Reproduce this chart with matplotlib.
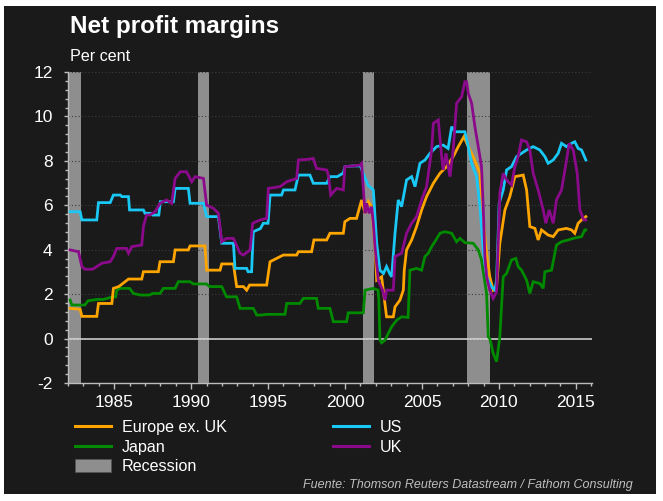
import matplotlib
matplotlib.use("Agg")
import matplotlib.pyplot as plt
from matplotlib.patches import Rectangle, Patch
from matplotlib.lines import Line2D
from matplotlib.ticker import MultipleLocator

plt.rcParams['font.family'] = ['Liberation Sans', 'DejaVu Sans']
plt.rcParams['axes.unicode_minus'] = False

# ---------------- data ----------------
us_x = [1982.14, 1982.79, 1982.9, 1983.87, 1983.98, 1984.74, 1984.95, 1985.4, 1985.5, 1985.93, 1986.0, 1986.9,
        1987.0, 1987.4, 1987.5, 1987.9, 1988.0, 1988.85, 1988.96, 1989.82, 1989.93, 1990.8, 1991.01, 1991.77,
        1991.99, 1992.75, 1992.85, 1993.61, 1993.7, 1993.93, 1994.04, 1994.5, 1994.69, 1995.0, 1995.13, 1995.88,
        1996.0, 1996.75, 1996.97, 1997.72, 1997.94, 1998.81, 1999.02, 1999.5, 1999.89, 2000.0, 2000.5, 2001.0,
        2001.2, 2001.5, 2001.84, 2002.06, 2002.27, 2002.5, 2002.7, 2002.9, 2003.03, 2003.25, 2003.46, 2003.68,
        2004.0, 2004.33, 2004.55, 2004.87, 2005.2, 2005.52, 2005.95, 2006.38, 2006.7, 2006.93, 2007.14, 2007.79,
        2008.01, 2008.23, 2008.55, 2008.77, 2008.98, 2009.2, 2009.52, 2009.74, 2009.85, 2010.02, 2010.28, 2010.5,
        2010.82, 2011.15, 2011.47, 2011.8, 2012.23, 2012.66, 2012.99, 2013.2, 2013.53, 2013.85, 2014.07, 2014.39,
        2014.72, 2014.93, 2015.15, 2015.37, 2015.65]
us_y = [5.71, 5.71, 5.34, 5.34, 6.12, 6.12, 6.46, 6.46, 6.39, 6.39, 5.79, 5.79,
        5.64, 5.64, 5.56, 5.56, 6.16, 6.16, 6.76, 6.76, 6.09, 6.09, 5.49, 5.49,
        4.29, 4.29, 3.16, 3.16, 3.01, 3.01, 4.81, 4.95, 5.19, 5.19, 6.46, 6.46,
        6.69, 6.69, 7.36, 7.36, 6.99, 6.99, 7.29, 7.29, 7.45, 7.74, 7.77, 7.77,
        7.4, 6.9, 6.69, 4.29, 3.08, 2.93, 3.24, 2.93, 2.78, 4.74, 6.24, 5.94,
        7.14, 7.29, 6.84, 7.89, 8.04, 8.34, 8.64, 8.71, 8.56, 9.54, 9.31, 9.31,
        8.64, 7.89, 7.29, 5.94, 3.99, 2.78, 2.33, 2.18, 2.63, 6.09, 6.69, 7.59,
        7.74, 8.19, 8.34, 8.49, 8.64, 8.49, 8.19, 7.89, 8.04, 8.34, 8.79, 8.64,
        8.79, 8.86, 8.56, 8.49, 8.04]

uk_x = [1982.14, 1982.68, 1982.9, 1983.1, 1983.6, 1983.87, 1984.2, 1984.74, 1984.95, 1985.17, 1985.8, 1985.93,
        1986.15, 1986.79, 1986.9, 1987.1, 1987.3, 1987.66, 1987.98, 1988.4, 1988.74, 1988.96, 1989.3, 1989.7,
        1990.04, 1990.26, 1990.8, 1991.01, 1991.45, 1991.77, 1991.99, 1992.3, 1992.75, 1993.18, 1993.4, 1993.83,
        1994.0, 1994.48, 1994.91, 1995.02, 1995.78, 1996.21, 1996.86, 1996.97, 1997.61, 1997.94, 1998.15, 1998.81,
        1998.92, 1999.07, 1999.46, 1999.89, 1999.99, 2000.5, 2000.97, 2001.08, 2001.3, 2001.4, 2001.57, 2001.73,
        2001.84, 2001.95, 2002.16, 2002.44, 2002.6, 2002.7, 2003.14, 2003.25, 2003.68, 2004.0, 2004.33, 2004.65,
        2004.98, 2005.3, 2005.63, 2005.74, 2006.06, 2006.28, 2006.38, 2006.56, 2006.82, 2007.03, 2007.25, 2007.58,
        2007.79, 2007.9, 2008.01, 2008.23, 2008.44, 2008.66, 2008.87, 2008.98, 2009.09, 2009.2, 2009.41, 2009.63,
        2009.85, 2010.06, 2010.28, 2010.5, 2010.82, 2011.04, 2011.25, 2011.47, 2011.8, 2012.01, 2012.23, 2012.55,
        2012.88, 2013.05, 2013.27, 2013.53, 2013.74, 2014.07, 2014.29, 2014.57, 2014.83, 2015.09, 2015.26, 2015.52,
        2015.65]
uk_y = [3.99, 3.91, 3.24, 3.12, 3.12, 3.24, 3.39, 3.46, 3.69, 4.06, 4.06, 3.84,
        4.14, 4.21, 5.04, 5.56, 5.56, 5.71, 6.09, 6.24, 6.09, 7.21, 7.51, 7.51,
        7.06, 7.29, 7.21, 6.01, 5.86, 5.64, 4.36, 4.51, 4.51, 3.84, 3.76, 3.99,
        5.19, 5.34, 5.41, 6.76, 6.84, 7.06, 7.21, 8.04, 8.07, 8.11, 7.66, 7.59,
        7.36, 6.46, 6.76, 6.69, 7.74, 7.77, 7.81, 7.89, 5.64, 6.09, 5.64, 5.94,
        5.19, 4.14, 2.63, 2.18, 1.73, 2.18, 2.18, 3.69, 3.84, 4.74, 5.19, 5.49,
        6.24, 6.84, 8.49, 9.69, 9.84, 8.19, 7.59, 8.34, 7.29, 8.49, 10.59, 10.89,
        11.56, 11.56, 11.04, 10.59, 9.54, 8.64, 7.74, 5.94, 3.69, 2.78, 2.18, 1.81,
        2.11, 6.54, 7.44, 7.14, 6.91, 7.74, 8.19, 8.94, 8.86, 8.49, 7.44, 6.69,
        5.79, 5.19, 5.79, 5.19, 6.24, 6.69, 7.59, 8.79, 8.49, 7.44, 5.79, 5.34,
        5.34]

eu_x = [1982.14, 1982.79, 1982.9, 1983.87, 1983.98, 1984.85, 1984.95, 1985.3, 1985.93, 1986.79, 1986.9, 1987.87,
        1987.98, 1988.85, 1988.96, 1989.82, 1989.93, 1990.9, 1991.01, 1991.88, 1991.99, 1992.75, 1992.96, 1993.4,
        1993.61, 1993.8, 1994.91, 1995.13, 1995.56, 1995.99, 1996.86, 1996.97, 1997.83, 1997.98, 1998.81, 1999.02,
        1999.89, 1999.99, 2000.32, 2000.75, 2001.08, 2001.3, 2001.52, 2001.73, 2001.95, 2002.06, 2002.38, 2002.7,
        2003.14, 2003.25, 2003.57, 2003.79, 2003.85, 2004.0, 2004.33, 2004.65, 2004.98, 2005.3, 2005.74, 2006.17,
        2006.6, 2007.03, 2007.36, 2007.73, 2008.01, 2008.33, 2008.77, 2008.98, 2009.2, 2009.41, 2009.63, 2009.85,
        2010.06, 2010.39, 2010.71, 2011.04, 2011.58, 2011.8, 2012.01, 2012.34, 2012.55, 2012.77, 2013.2, 2013.53,
        2013.85, 2014.39, 2014.72, 2014.93, 2015.15, 2015.37, 2015.65]
eu_y = [1.36, 1.32, 1.0, 1.0, 1.58, 1.58, 2.26, 2.34, 2.68, 2.68, 3.01, 3.01,
        3.46, 3.46, 3.99, 3.99, 4.17, 4.17, 3.08, 3.08, 3.36, 3.36, 2.34, 2.34,
        2.18, 2.41, 2.41, 3.46, 3.61, 3.76, 3.76, 3.91, 3.91, 4.44, 4.44, 4.74,
        4.74, 5.26, 5.41, 5.41, 6.24, 5.64, 6.16, 5.94, 4.14, 2.63, 2.78, 0.98,
        0.98, 1.43, 1.73, 2.18, 3.08, 3.99, 4.44, 5.04, 5.79, 6.39, 6.99, 7.44,
        7.74, 8.19, 8.64, 9.09, 8.64, 8.19, 7.44, 5.34, 3.84, 2.78, 2.18, 2.33,
        4.29, 5.79, 6.39, 7.29, 7.36, 6.69, 5.04, 4.96, 4.44, 4.89, 4.66, 4.59,
        4.89, 4.96, 4.89, 4.74, 5.19, 5.34, 5.49]

jp_x = [1982.14, 1982.25, 1983.1, 1983.3, 1983.87, 1984.3, 1984.74, 1985.1, 1985.17, 1985.39, 1986.0, 1986.25,
        1986.7, 1987.3, 1987.5, 1987.98, 1988.2, 1988.96, 1989.17, 1989.93, 1990.15, 1991.0, 1991.2, 1991.99,
        1992.3, 1992.96, 1993.18, 1994.04, 1994.26, 1994.58, 1994.91, 1996.1, 1996.21, 1997.07, 1997.29, 1998.15,
        1998.26, 1999.02, 1999.24, 2000.1, 2000.21, 2001.19, 2001.3, 2001.84, 2002.15, 2002.2, 2002.27, 2002.38,
        2002.6, 2002.81, 2003.03, 2003.36, 2003.68, 2004.1, 2004.22, 2004.65, 2004.98, 2005.19, 2005.41, 2005.63,
        2005.84, 2006.17, 2006.49, 2006.93, 2007.25, 2007.47, 2007.79, 2008.33, 2008.66, 2008.87, 2009.2, 2009.31,
        2009.41, 2009.63, 2009.85, 2010.06, 2010.28, 2010.5, 2010.82, 2011.1, 2011.25, 2011.47, 2011.8, 2012.01,
        2012.23, 2012.66, 2012.88, 2012.99, 2013.42, 2013.74, 2014.07, 2014.5, 2014.83, 2015.37, 2015.58, 2015.65]
jp_y = [1.73, 1.51, 1.51, 1.70, 1.76, 1.76, 1.85, 1.88, 2.18, 2.26, 2.26, 2.03,
        1.96, 1.96, 2.03, 2.03, 2.26, 2.26, 2.56, 2.56, 2.46, 2.46, 2.34, 2.34,
        1.88, 1.88, 1.36, 1.36, 1.06, 1.06, 1.09, 1.09, 1.58, 1.58, 1.81, 1.81,
        1.36, 1.36, 0.76, 0.76, 1.16, 1.16, 2.18, 2.26, 2.18, 1.73, -0.07, -0.19,
        -0.07, 0.23, 0.53, 0.83, 0.98, 0.95, 3.08, 3.16, 3.08, 3.69, 3.84, 4.14,
        4.36, 4.74, 4.81, 4.74, 4.36, 4.51, 4.32, 4.29, 3.99, 3.54, 2.03, 0.08,
        0.0, -0.67, -1.04, 0.08, 2.78, 2.93, 3.54, 3.61, 3.24, 3.08, 2.63, 2.03,
        2.56, 2.48, 2.26, 3.01, 3.08, 4.21, 4.36, 4.44, 4.51, 4.59, 4.89, 4.89]

recession_start = [1981.9, 1990.47, 2001.18, 2007.94]
recession_end = [1982.85, 1991.17, 2001.88, 2009.42]

labels = ["Europe ex. UK", "Japan", "Recession", "US", "UK"]

# ---------------- style ----------------
BG = '#1a1a1a'
C_EU = '#ffa500'
C_JP = '#008a00'
C_US = '#19c8f5'
C_UK = '#8b0a8b'
C_REC = '#8e8e8e'
FG = '#ffffff'
AXC = '#bdbdbd'

fig = plt.figure(figsize=(6.63, 5.01), dpi=100, facecolor='white')
fig.patches.append(Rectangle((4 / 663, 1 - 494 / 501), 652 / 663, 488 / 501,
                             transform=fig.transFigure, facecolor=BG, edgecolor='none', zorder=-10))

ax = fig.add_axes([68 / 663, 1 - 383 / 501, (592 - 68) / 663, (383 - 72) / 501])
ax.set_facecolor(BG)

for s, e in zip(recession_start, recession_end):
    ax.axvspan(s, e, color=C_REC, lw=0, zorder=1)

ax.axhline(0, color='#d8d8d8', lw=1.1, zorder=2)

lw = 2.0
ax.plot(jp_x, jp_y, color=C_JP, lw=lw, zorder=3, solid_joinstyle='miter')
ax.plot(eu_x, eu_y, color=C_EU, lw=lw, zorder=4, solid_joinstyle='miter')
ax.plot(us_x, us_y, color=C_US, lw=lw, zorder=5, solid_joinstyle='miter')
ax.plot(uk_x, uk_y, color=C_UK, lw=lw, zorder=6, solid_joinstyle='miter')

ax.set_xlim(1982.0, 2016.05)
ax.set_ylim(-2, 12)
ax.xaxis.set_major_locator(MultipleLocator(5))
ax.xaxis.set_minor_locator(MultipleLocator(1))
ax.yaxis.set_major_locator(MultipleLocator(2))
ax.yaxis.set_minor_locator(MultipleLocator(0.4))

ax.grid(axis='y', which='major', color='#3c3c3c', lw=0.8, ls=(0, (1, 2)), zorder=0)

for sp in ['top', 'right']:
    ax.spines[sp].set_visible(False)
for sp in ['left', 'bottom']:
    ax.spines[sp].set_color(AXC)
    ax.spines[sp].set_linewidth(1.0)

ax.tick_params(axis='x', which='major', length=4, width=1, color=AXC, labelcolor=FG, labelsize=12.5, pad=4.5)
ax.tick_params(axis='x', which='minor', length=2.5, width=1, color=AXC)
ax.tick_params(axis='y', which='major', length=3, width=1, color=AXC, labelcolor=FG, labelsize=12.5, pad=8)
ax.tick_params(axis='y', which='minor', length=2, width=1, color=AXC)

# titles
fig.text(70 / 663, 1 - 33.3 / 501, "Net profit margins", color=FG, fontsize=17.5,
         fontweight='bold', va='baseline', ha='left')
fig.text(70 / 663, 1 - 60.7 / 501, "Per cent", color=FG, fontsize=11.6, va='baseline', ha='left')

# legend
handles = [Line2D([], [], color=C_EU, lw=2.2),
           Line2D([], [], color=C_JP, lw=2.2),
           Patch(facecolor=C_REC, edgecolor='#555555', lw=0.5),
           Line2D([], [], color=C_US, lw=2.2),
           Line2D([], [], color=C_UK, lw=2.2)]
leg = fig.legend(handles, labels, ncol=2, loc='upper left',
                 bbox_to_anchor=(75 / 663, 1 - 420 / 501), frameon=False,
                 fontsize=11.6, handlelength=2.25, handletextpad=0.65,
                 columnspacing=6.6, labelspacing=0.26, handleheight=0.9,
                 borderaxespad=0, borderpad=0)
for t in leg.get_texts():
    t.set_color(FG)

fig.text(633 / 663, 1 - 485 / 501, "Fuente: Thomson Reuters Datastream / Fathom Consulting",
         color='#bfbfbf', fontsize=9, style='italic', ha='right', va='center')

fig.savefig("out.png", dpi=100, facecolor=fig.get_facecolor())
